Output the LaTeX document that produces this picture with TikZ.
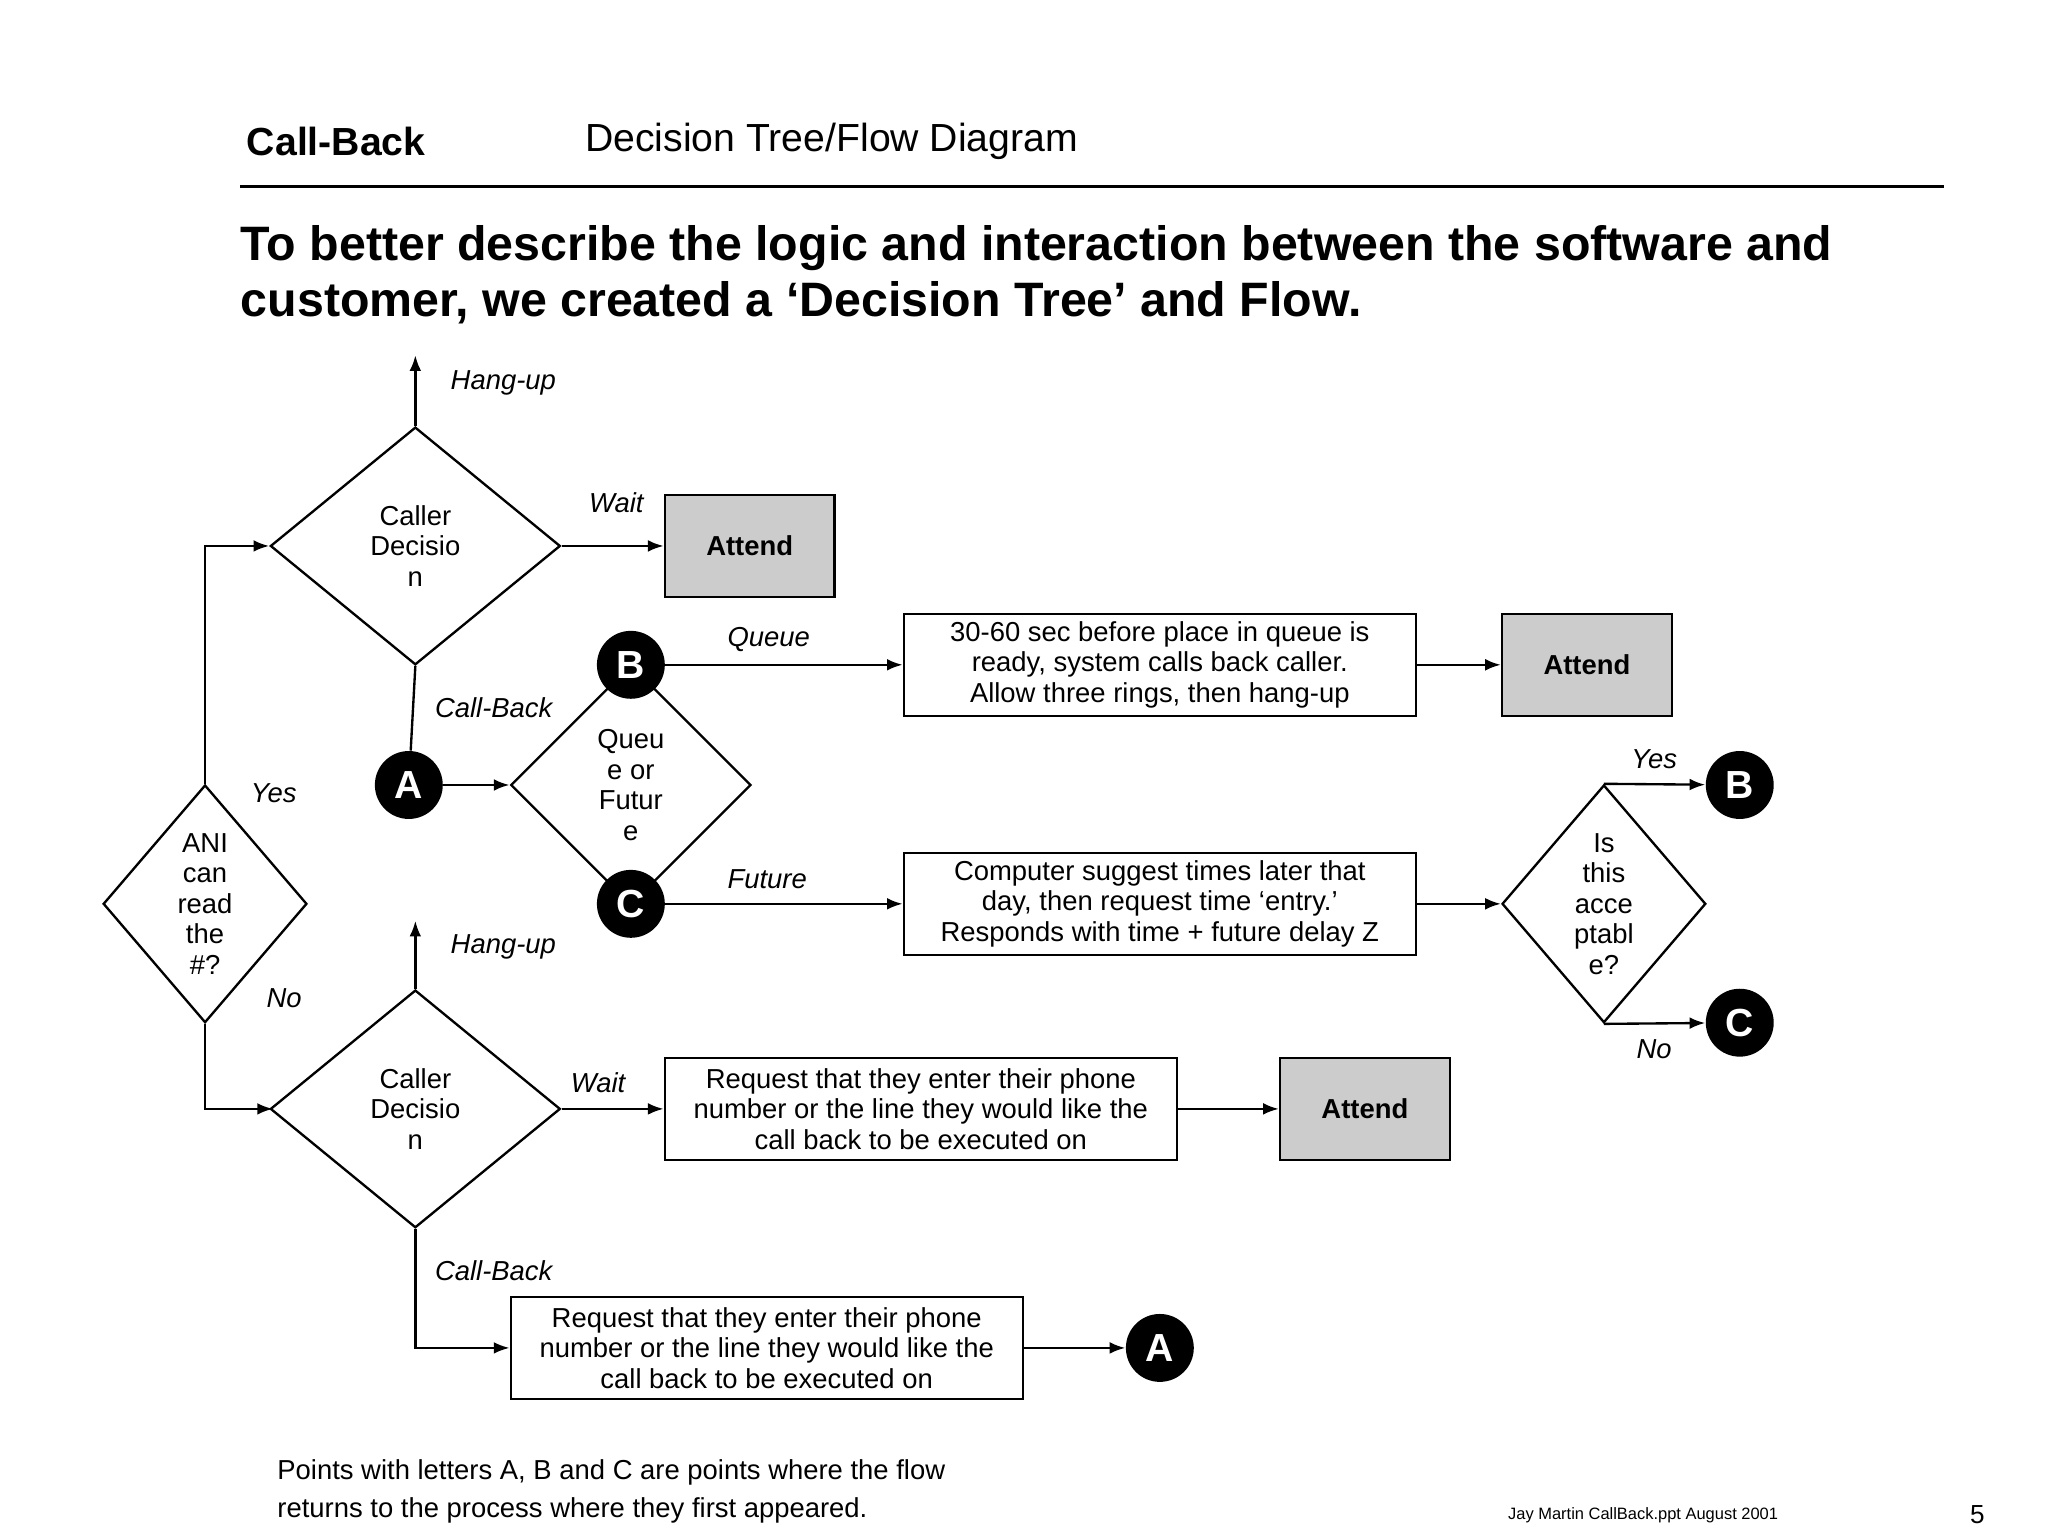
\documentclass[tikz,border=0pt]{standalone}
\usepackage{fontspec}
\setmainfont{Liberation Sans}
\usetikzlibrary{shapes.geometric,arrows.meta}
\begin{document}
\begin{tikzpicture}[x=0.5pt,y=-0.5pt,
  box/.style={draw,line width=0.9pt,minimum width=196pt,minimum height=39pt,align=center,font=\fontsize{10.5}{11.7}\selectfont,inner sep=1pt},
  att/.style={draw,line width=0.9pt,fill=black!20,minimum width=65pt,minimum height=39pt,font=\fontsize{10.5}{12}\selectfont\bfseries},
  dia/.style={draw,line width=0.9pt,diamond,inner sep=0pt,align=center,font=\fontsize{10.5}{11.7}\selectfont},
  big/.style={dia,minimum width=111pt,minimum height=91pt},
  small/.style={dia,minimum width=78pt,minimum height=91pt},
  pt/.style={circle,fill=black,minimum size=26pt,inner sep=0pt,text=white,font=\fontsize{15}{15}\selectfont\bfseries},
  lab/.style={font=\fontsize{10.5}{12}\selectfont\itshape,anchor=west},
  ar/.style={-{Latex[length=6pt,width=4.5pt]},line width=0.9pt},
  ln/.style={line width=0.9pt}]
\useasboundingbox (0,0) rectangle (1568,1176);
\node[anchor=west,font=\fontsize{15}{18}\selectfont\bfseries] (h1) at (182,108) {Call-Back};
\node[anchor=west,font=\fontsize{15}{18}\selectfont] (h2) at (441,108) {Decision Tree/Flow Diagram};
\draw[line width=1.2pt] (184,143) -- (1488,143);
\node[anchor=north west,align=left,inner sep=0pt,font=\fontsize{18.5}{21.5}\selectfont\bfseries] (t) at (184,172) {To better describe the logic and interaction between the software and\\customer, we created a ‘Decision Tree’ and Flow.};

\node[big] (d1) at (318,418) {Caller\\Decisio\\n};
\coordinate (hu1) at (318,272);
\draw[ar] (d1.north) -- (hu1);
\node[lab] (l1) at (338,293) {Hang-up};
\node[att] (at1) at (574,418) {Attend};
\draw[ar] (d1.east) -- (at1);
\node[lab] (l2) at (444,385) {Wait};
\node[pt] (A1) at (313,601) {A};
\draw[ln] (d1.south) -- (A1);
\node[lab] (l3) at (326,542) {Call-Back};
\node[dia,minimum width=92pt,minimum height=92pt] (q) at (483,601) {Queu\\e or\\Futur\\e};
\draw[ar] (A1) -- (q.west);
\node[pt] (B1) at (483,509) {B};
\node[pt] (C1) at (483,692) {C};
\node[box] (b1) at (888,509) {30-60 sec before place in queue is\\ready, system calls back caller.\\Allow three rings, then hang-up};
\draw[ar] (B1) -- (b1);
\node[lab] (l4) at (550,490) {Queue};
\node[att] (at2) at (1215,509) {Attend};
\draw[ar] (b1) -- (at2);
\node[box] (b2) at (888,692) {Computer suggest times later that\\day, then request time ‘entry.’\\Responds with time + future delay Z};
\draw[ar] (C1) -- (b2);
\node[lab] (l5) at (550,673) {Future};
\node[small] (d4) at (1228,692) {Is\\this\\acce\\ptabl\\e?};
\draw[ar] (b2) -- (d4.west);
\node[pt] (B2) at (1332,601) {B};
\node[pt] (C2) at (1332,783) {C};
\draw[ar] (d4.north) -- (B2);
\draw[ar] (d4.south) -- (C2);
\node[lab] (l6) at (1242,581) {Yes};
\node[lab] (l7) at (1246,803) {No};

\node[small] (ani) at (157,692) {ANI\\can\\read\\the\\\#?};
\draw[ar] (ani.north) |- (d1.west);
\draw[ar] (ani.south) |- (209,849);
\node[lab] (l8) at (185,607) {Yes};
\node[lab] (l9) at (197,764) {No};

\node[big] (d2) at (318,849) {Caller\\Decisio\\n};
\coordinate (hu2) at (318,705);
\draw[ar] (d2.north) -- (hu2);
\node[lab] (l10) at (338,725) {Hang-up};
\node[box] (b3) at (705,849) {Request that they enter their phone\\number or the line they would like the\\call back to be executed on};
\draw[ar] (d2.east) -- (b3);
\node[lab] (l11) at (430,829) {Wait};
\node[att] (at3) at (1045,849) {Attend};
\draw[ar] (b3) -- (at3);
\node[box] (b4) at (587,1032) {Request that they enter their phone\\number or the line they would like the\\call back to be executed on};
\draw[ar] (d2.south) |- (b4.west);
\node[lab] (l12) at (326,973) {Call-Back};
\node[pt] (A2) at (888,1032) {A};
\draw[ar] (b4) -- (A2);

\node[anchor=north west,align=left,inner sep=0pt,font=\fontsize{10.5}{14.5}\selectfont] (fn) at (212,1117) {Points with letters A, B and C are points where the flow\\returns to the process where they first appeared.};
\node[font=\fontsize{6.3}{7}\selectfont] (ft) at (1258,1160) {Jay Martin CallBack.ppt August 2001};
\node[font=\fontsize{10}{12}\selectfont] (pg) at (1514,1160) {5};
\end{tikzpicture}
\end{document}
